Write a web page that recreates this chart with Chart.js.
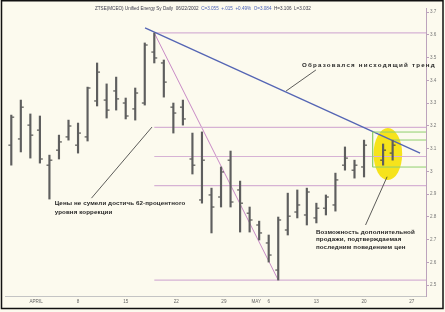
<!DOCTYPE html>
<html>
<head>
<meta charset="utf-8">
<script src="https://cdn.jsdelivr.net/npm/chart.js@4.4.0/dist/chart.umd.min.js"></script>
<style>
  html, body { margin: 0; padding: 0; background: #fcfaee; }
  canvas { display: block; }
</style>
</head>
<body>
<canvas id="grafico" width="445" height="312"></canvas>
<script>
const grafico = document.querySelector("#grafico").getContext("2d");

// OHLC bars, one per trading day (index 0..40), null = no bar
const highs  = [3.247, 3.313, 3.252, 3.243, 3.071, 3.159, 3.225, 3.212, 3.370, 3.476,
                3.384, 3.414, 3.322, 3.366, 3.564, 3.608, 3.489, 3.300, 3.313, 3.168,
                3.173, 2.926, 3.019, 3.089, 2.957, 2.843, 2.781, 2.720, 2.799, 2.904,
                2.918, 2.926, 2.860, 2.896, 2.992, 3.107, 3.049, 3.137, null, 3.120, 3.137];
const lows   = [3.027, 3.085, 3.058, 3.036, 2.878, 3.054, 3.137, 3.080, 3.133, 3.287,
                3.234, 3.269, 3.230, 3.225, 3.291, 3.476, 3.326, 3.168, 3.203, 2.988,
                2.860, 2.729, 2.843, 2.843, 2.733, 2.733, 2.698, 2.601, 2.522, 2.720,
                2.795, 2.764, 2.773, 2.808, 2.825, 3.005, 2.970, 2.975, null, 3.027, 3.049];
const opens  = [3.115, 3.142, 3.203, 3.181, 3.027, 3.093, 3.151, 3.115, 3.151, 3.309,
                3.313, 3.353, 3.300, 3.274, 3.300, 3.524, 3.476, 3.282, 3.282, 3.054,
                2.874, 2.896, 2.887, 3.049, 2.918, 2.816, 2.764, 2.685, 2.566, 2.742,
                2.821, 2.808, 2.795, 2.838, 2.852, 3.027, 3.005, 3.019, null, 3.049, 3.080];
const closes = [3.238, 3.282, 3.159, 3.054, 3.049, 3.129, 3.199, 3.168, 3.366, 3.436,
                3.269, 3.318, 3.243, 3.344, 3.555, 3.498, 3.392, 3.256, 3.230, 3.027,
                3.049, 2.843, 2.997, 2.865, 2.860, 2.786, 2.729, 2.632, 2.786, 2.803,
                2.852, 2.909, 2.838, 2.887, 2.962, 3.058, 3.027, 3.115, null, 3.093, 3.115];

const xTickValues = [2.6, 7, 12, 17.3, 22.3, 25.7, 27, 32, 37, 42];
const xTickLabels = ["APRIL", "8", "15", "22", "29", "MAY", "6", "13", "20", "27"];
const yTickValues = [2.5, 2.6, 2.7, 2.8, 2.9, 3.0, 3.1, 3.2, 3.3, 3.4, 3.5, 3.6, 3.7];

// Fibonacci retracement levels from the high (day 15) to the low (day 28)
const fibLevels = [3.608, 3.193, 3.065, 2.937, 2.522];
const fibFrom = 15;
const rightEdge = 43.5;
const retrace = [{ x: 15, y: 3.608 }, { x: 28, y: 2.522 }];
const trend = [{ x: 14.03, y: 3.630 }, { x: 42.88, y: 3.080 }];

// green box round the last bars
const greenLevels = [3.1725, 3.1374, 3.0187];
const greenFrom = [37.9, 40.1, 37.9];
const greenSide = [{ x: 37.9, y: 3.1725 }, { x: 37.9, y: 3.0187 }];
const highlightX = [38.0, 41.0];
const highlightY = [2.9615, 3.190];

const titleParts = [
  ["ZTSE(MCEO) Unified Energy Sy Daily  06/22/2002  ", "#3a3a4a"],
  ["C=3.055  +.015  +0.49%  O=3.084  ", "#4a62b8"],
  ["H=3.106  L=3.032", "#3a3a4a"]
];

const notes = [
  { lines: ["Цены не сумели достичь 62-процентного", "уровня коррекции"], at: [4.55, 2.860], step: 9, spacing: 0.1,
    leader: [{ x: 14.76, y: 3.1945 }, { x: 8.41, y: 2.882 }] },
  { lines: ["Образовался нисходящий тренд"], at: [30.49, 3.467], step: 8, spacing: 1.2,
    leader: [{ x: 28.82, y: 3.3527 }, { x: 31.95, y: 3.4451 }] },
  { lines: ["Возможность дополнительной", "продажи, подтверждаемая", "последним поведением цен"], at: [31.95, 2.734], step: 7.8, spacing: 0.15,
    leader: [{ x: 39.42, y: 2.976 }, { x: 37.16, y: 2.764 }] }
];

const FONT = "'Liberation Sans', Arial, sans-serif";

function lineSet(points, color, width, order) {
  return {
    type: "line",
    data: points,
    borderColor: color,
    borderWidth: width,
    pointRadius: 0,
    fill: false,
    order: order
  };
}

var barData = [];
var openData = [];
var closeData = [];
for (var i = 0; i < highs.length; i++) {
  if (highs[i] == null) continue;
  barData.push({ x: i, y: [lows[i], highs[i]] });
  openData.push({ x: i - 0.16, y: opens[i] });
  closeData.push({ x: i + 0.16, y: closes[i] });
}

var datasets = [];

datasets.push({
  type: "bar",
  data: barData,
  backgroundColor: "#5e5e5e",
  barThickness: 1.5,
  grouped: false,
  order: 0
});
datasets.push({
  type: "scatter",
  data: openData,
  pointStyle: "line",
  pointRadius: 1.4,
  pointBorderWidth: 1,
  borderColor: "#333",
  order: 0
});
datasets.push({
  type: "scatter",
  data: closeData,
  pointStyle: "line",
  pointRadius: 1.4,
  pointBorderWidth: 1,
  borderColor: "#333",
  order: 0
});

for (var k = 0; k < fibLevels.length; k++) {
  datasets.push(lineSet([{ x: fibFrom, y: fibLevels[k] }, { x: rightEdge, y: fibLevels[k] }], "#d6b2d4", 1.2, 2));
}
datasets.push(lineSet(retrace, "#c98ac6", 1, 2));
for (var g = 0; g < greenLevels.length; g++) {
  datasets.push(lineSet([{ x: greenFrom[g], y: greenLevels[g] }, { x: rightEdge, y: greenLevels[g] }], "#8fcf6e", 1, 1));
}
datasets.push(lineSet(greenSide, "#8fcf6e", 1, 1));
datasets.push(lineSet(trend, "#5465b4", 1.3, 1));
for (var n = 0; n < notes.length; n++) {
  datasets.push(lineSet(notes[n].leader, "#333", 0.8, 1));
}

const decor = {
  id: "decor",
  beforeDraw: function (chart) {
    var c = chart.ctx;
    c.save();
    c.fillStyle = "#fcfaee";
    c.fillRect(0, 0, chart.width, chart.height);
    c.restore();
  },
  beforeDatasetsDraw: function (chart) {
    var c = chart.ctx, xs = chart.scales.x, ys = chart.scales.y;
    var x0 = xs.getPixelForValue(highlightX[0]), x1 = xs.getPixelForValue(highlightX[1]);
    var y0 = ys.getPixelForValue(highlightY[0]), y1 = ys.getPixelForValue(highlightY[1]);
    c.save();
    c.fillStyle = "#f6e31c";
    c.beginPath();
    c.ellipse((x0 + x1) / 2, (y0 + y1) / 2, (x1 - x0) / 2, (y0 - y1) / 2, 0, 0, Math.PI * 2);
    c.fill();
    c.restore();
  },
  afterDraw: function (chart) {
    var c = chart.ctx, xs = chart.scales.x, ys = chart.scales.y;
    c.save();
    // annotations
    c.fillStyle = "#262626";
    c.font = "bold 6.2px " + FONT;
    c.textBaseline = "middle";
    c.textAlign = "left";
    for (var i = 0; i < notes.length; i++) {
      var px = xs.getPixelForValue(notes[i].at[0]);
      var py = ys.getPixelForValue(notes[i].at[1]);
      c.letterSpacing = notes[i].spacing + "px";
      for (var j = 0; j < notes[i].lines.length; j++) {
        c.fillText(notes[i].lines[j], px, py + j * notes[i].step);
      }
    }
    c.letterSpacing = "0px";
    // title
    c.font = "4.6px " + FONT;
    var tx = 95;
    for (var t = 0; t < titleParts.length; t++) {
      c.fillStyle = titleParts[t][1];
      c.fillText(titleParts[t][0], tx, 9);
      tx += c.measureText(titleParts[t][0]).width;
    }
    // frame
    c.strokeStyle = "#111";
    c.lineWidth = 1.5;
    c.strokeRect(1.5, 0.75, 441.5, 307.75);
    c.restore();
  }
};

new Chart(grafico, {
  type: "bar",
  data: { datasets: datasets },
  options: {
    responsive: false,
    animation: false,
    devicePixelRatio: 1,
    layout: { padding: { left: 2, top: 8, right: 0, bottom: 0 } },
    plugins: {
      legend: { display: false },
      tooltip: { enabled: false }
    },
    scales: {
      x: {
        type: "linear",
        min: -0.66,
        max: rightEdge,
        offset: false,
        grid: { drawOnChartArea: false, drawTicks: false },
        border: { display: true, color: "#c4c4c4" },
        afterBuildTicks: function (s) { s.ticks = xTickValues.map(function (v) { return { value: v }; }); },
        afterFit: function (s) { s.height = 16; },
        ticks: {
          autoSkip: false,
          maxRotation: 0,
          padding: 3,
          color: "#666",
          font: { size: 4.6, family: FONT },
          callback: function (v, i) { return xTickLabels[i]; }
        }
      },
      y: {
        position: "right",
        min: 2.452,
        max: 3.7176,
        grid: { drawOnChartArea: false, tickLength: 3, color: "#bca3bc" },
        border: { display: true, color: "#bca3bc" },
        afterBuildTicks: function (s) { s.ticks = yTickValues.map(function (v) { return { value: v }; }); },
        afterFit: function (s) { s.width = 19; },
        ticks: {
          padding: 1,
          color: "#777",
          font: { size: 4.6, family: FONT },
          callback: function (v) { return String(Math.round(v * 10) / 10); }
        }
      }
    }
  },
  plugins: [decor]
});
</script>
</body>
</html>
